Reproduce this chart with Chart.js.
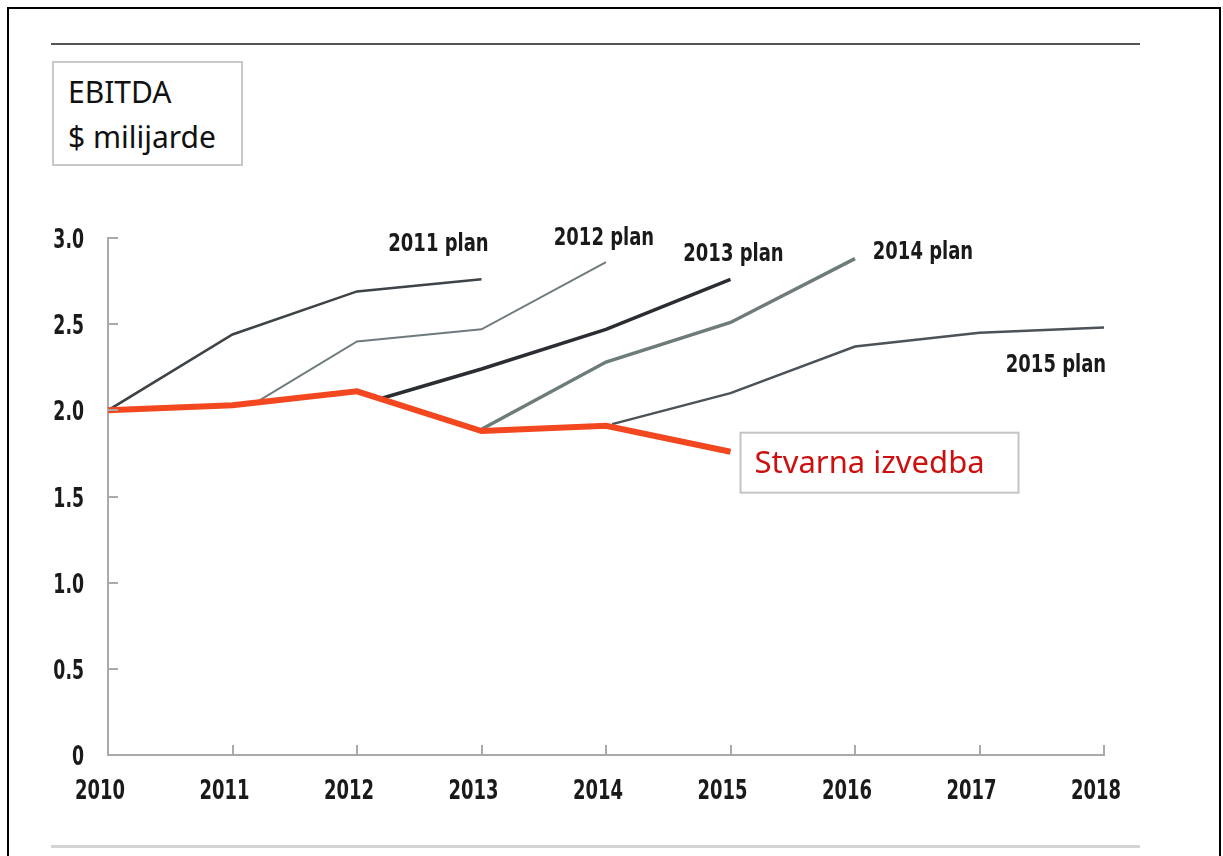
<!DOCTYPE html>
<html>
<head>
<meta charset="utf-8">
<script src="https://cdn.jsdelivr.net/npm/chart.js@4"></script>
<style>
body{margin:0;background:#fff;overflow:hidden;}
#frame{position:absolute;left:7px;top:7px;width:1214px;height:900px;border:2px solid #000;box-sizing:border-box;}
#topRule{position:absolute;left:51px;top:43px;width:1089px;height:2px;background:#555;}
#bottomRule{position:absolute;left:51px;top:845px;width:1089px;height:3px;background:#d4d4d4;}
#titleBox{position:absolute;left:52px;top:61px;width:191px;height:105px;border:2px solid #c8c8c8;box-sizing:border-box;
  font-family:"Noto Sans",sans-serif;font-size:30px;line-height:45px;color:#111;padding:6px 0 0 14px;}
#myChart{position:absolute;left:0;top:0;}
</style>
</head>
<body>
<div id="frame"></div>
<div id="topRule"></div>
<div id="bottomRule"></div>
<div id="titleBox">EBITDA<br>$ milijarde</div>
<canvas id="myChart" width="1223" height="856"></canvas>
<script>
// values
var actualYears = [2010, 2011, 2012, 2013, 2014, 2015];
var actual = [2.00, 2.03, 2.11, 1.88, 1.91, 1.76];

var plan2011Years = [2010, 2011, 2012, 2013];
var plan2011 = [2.00, 2.44, 2.69, 2.76];

var plan2012Years = [2011.2, 2012, 2013, 2014];
var plan2012 = [2.05, 2.40, 2.47, 2.86];

var plan2013Years = [2012.2, 2013, 2014, 2015];
var plan2013 = [2.07, 2.24, 2.47, 2.76];

var plan2014Years = [2013, 2014, 2015, 2016];
var plan2014 = [1.89, 2.28, 2.51, 2.88];

var plan2015Years = [2014.05, 2015, 2016, 2017, 2018];
var plan2015 = [1.92, 2.10, 2.37, 2.45, 2.48];

var yTicks = [0, 0.5, 1.0, 1.5, 2.0, 2.5, 3.0];
var xTicks = [2010, 2011, 2012, 2013, 2014, 2015, 2016, 2017, 2018];
var planLabels = ['2011 plan', '2012 plan', '2013 plan', '2014 plan', '2015 plan'];
var actualLabel = 'Stvarna izvedba';

function pts(xs, ys){
    var out = [];
    for(var i=0;i<xs.length;i++) out.push({x: xs[i], y: ys[i]});
    return out;
}

var condFont = '"DejaVu Sans Condensed","DejaVu Sans",sans-serif';

// label offsets from each plan's last point (centre x, baseline y)
var labelOffsets = [[-43,-28],[-2,-17],[3,-18],[68,0],[-48,44]];

// the original uses a narrow DIN-like face, so squeeze the condensed one a bit more
function narrowText(ctx, txt, x, y, align, sq){
    ctx.save();
    ctx.translate(x, y);
    ctx.scale(sq, 1);
    ctx.textAlign = align;
    ctx.fillText(txt, 0, 0);
    ctx.restore();
}

var annotations = {
    id: 'annotations',
    afterDraw: function(chart){
        var ctx = chart.ctx;
        var xs = chart.scales.x, ys = chart.scales.y;
        ctx.save();
        // inner tick marks
        ctx.strokeStyle = '#aaa';
        ctx.lineWidth = 2;
        for(var i=1;i<yTicks.length;i++){
            var py = Math.round(ys.getPixelForValue(yTicks[i]));
            ctx.beginPath(); ctx.moveTo(xs.left, py); ctx.lineTo(xs.left+10, py); ctx.stroke();
        }
        for(var i=1;i<xTicks.length;i++){
            var px = Math.round(xs.getPixelForValue(xTicks[i]));
            ctx.beginPath(); ctx.moveTo(px, ys.bottom); ctx.lineTo(px, ys.bottom-10); ctx.stroke();
        }
        ctx.fillStyle = '#1a1a1a';
        ctx.textBaseline = 'alphabetic';
        // axis labels
        ctx.font = 'bold 27px ' + condFont;
        for(var i=0;i<xTicks.length;i++){
            narrowText(ctx, String(xTicks[i]), xs.getPixelForValue(xTicks[i]) - 8, ys.bottom + 44, 'center', 0.74);
        }
        ctx.font = 'bold 26px ' + condFont;
        for(var i=0;i<yTicks.length;i++){
            var lab = yTicks[i] === 0 ? '0' : yTicks[i].toFixed(1);
            narrowText(ctx, lab, xs.left - 24, ys.getPixelForValue(yTicks[i]) + 10, 'right', 0.74);
        }
        // plan labels
        ctx.font = 'bold 25px ' + condFont;
        for(var k=0;k<planLabels.length;k++){
            var meta = chart.getDatasetMeta(k+1);
            var last = meta.data[meta.data.length-1];
            narrowText(ctx, planLabels[k], last.x + labelOffsets[k][0], last.y + labelOffsets[k][1], 'center', 0.8);
        }
        // actual label box
        var am = chart.getDatasetMeta(0);
        var al = am.data[am.data.length-1];
        var bx = al.x + 10, by = al.y - 19;
        ctx.fillStyle = '#fff';
        ctx.fillRect(bx, by, 278, 60);
        ctx.strokeStyle = '#c4c4c4';
        ctx.lineWidth = 2;
        ctx.strokeRect(bx, by, 278, 60);
        ctx.fillStyle = '#cc1010';
        ctx.font = '31px "Noto Sans",sans-serif';
        ctx.textAlign = 'left';
        ctx.fillText(actualLabel, bx + 14, by + 40);
        ctx.restore();
    }
};

var ctx = document.getElementById('myChart').getContext('2d');
var myChart = new Chart(ctx, {
    type: 'line',
    data: {
        datasets: [
            {label: 'Stvarna izvedba', data: pts(actualYears, actual), borderColor: '#f2471f', borderWidth: 6, order: 0},
            {label: '2011 plan', data: pts(plan2011Years, plan2011), borderColor: '#3d4347', borderWidth: 2.5, order: 1},
            {label: '2012 plan', data: pts(plan2012Years, plan2012), borderColor: '#6f7c7e', borderWidth: 2, order: 1},
            {label: '2013 plan', data: pts(plan2013Years, plan2013), borderColor: '#2a2e33', borderWidth: 3.5, order: 1},
            {label: '2014 plan', data: pts(plan2014Years, plan2014), borderColor: '#6e7b7b', borderWidth: 3.5, order: 1},
            {label: '2015 plan', data: pts(plan2015Years, plan2015), borderColor: '#4b5258', borderWidth: 2.5, order: 1}
        ]
    },
    options: {
        responsive: false,
        animation: false,
        events: [],
        layout: {autoPadding: false, padding: {left: 0, top: 238, right: 119, bottom: 0}},
        elements: {point: {radius: 0}, line: {tension: 0}},
        plugins: {legend: {display: false}, tooltip: {enabled: false}},
        scales: {
            x: {
                type: 'linear', min: 2010, max: 2018,
                afterFit: function(s){ s.height = 101; },
                afterBuildTicks: function(s){ s.ticks = xTicks.map(function(v){ return {value: v}; }); },
                grid: {display: false},
                border: {display: true, color: '#aaa', width: 2},
                ticks: {display: false}
            },
            y: {
                min: 0, max: 3,
                afterFit: function(s){ s.width = 108; },
                afterBuildTicks: function(s){ s.ticks = yTicks.map(function(v){ return {value: v}; }); },
                grid: {display: false},
                border: {display: true, color: '#aaa', width: 2},
                ticks: {display: false}
            }
        }
    },
    plugins: [annotations]
});
</script>
</body>
</html>
